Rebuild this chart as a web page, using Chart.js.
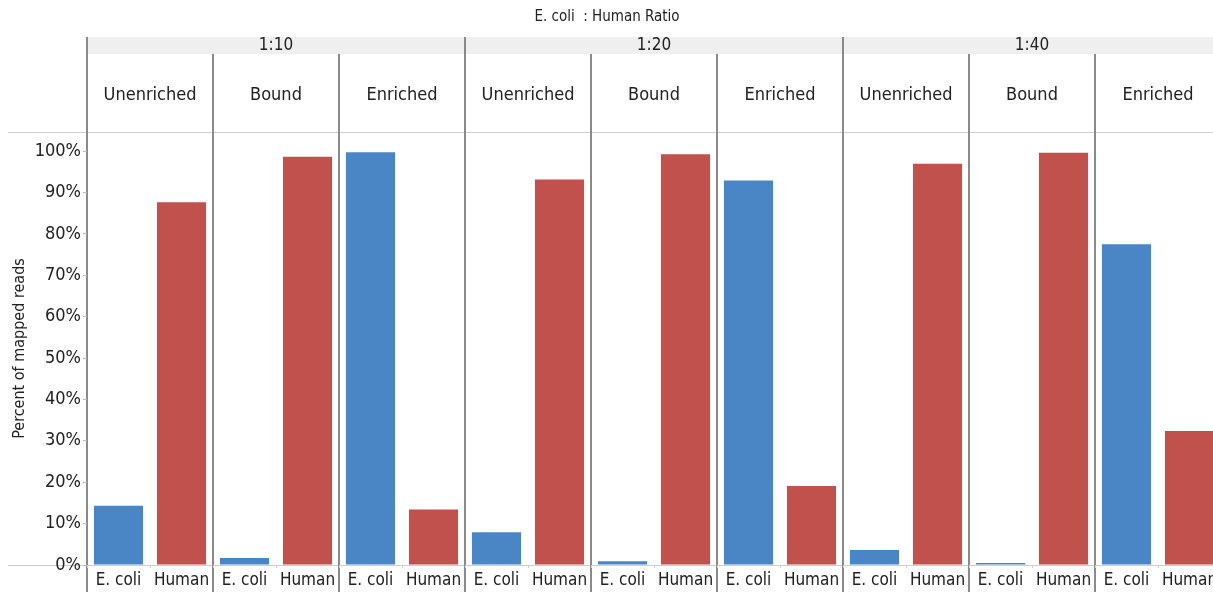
<!DOCTYPE html>
<html>
<head>
    <title>E. coli : Human Ratio</title>
    <script src="https://cdn.jsdelivr.net/npm/chart.js"></script>
    <style>
        body { margin: 0; overflow: hidden; background: #fff; }
        #wrap { width: 1240px; height: 592px; }
    </style>
</head>
<body>
    <div id="wrap">
        <canvas id="ratioChart" width="1240" height="592"></canvas>
    </div>

    <script>
        // facets and categories
        const ratios = ['1:10', '1:20', '1:40'];
        const fractions = ['Unenriched', 'Bound', 'Enriched'];
        const species = ['E. coli', 'Human'];
        const yTicks = [0, 10, 20, 30, 40, 50, 60, 70, 80, 90, 100];

        // percent of mapped reads, one value per panel (ratio x fraction)
        const ecoliPct = [14.3, 1.7, 99.7, 7.9, 0.9, 92.9, 3.6, 0.5, 77.5];
        const humanPct = [87.6, 98.6, 13.4, 93.1, 99.2, 19.1, 96.9, 99.6, 32.4];

        const colors = { 'E. coli': '#4a86c6', 'Human': '#c0514d' };
        const FONT = '"Liberation Sans Narrow", "Arial Narrow", "DejaVu Sans Condensed", sans-serif';

        const labels = [];
        const values = [];
        const barColors = [];
        for (let p = 0; p < ecoliPct.length; p++) {
            species.forEach(s => {
                labels.push(s);
                values.push(s === 'E. coli' ? ecoliPct[p] : humanPct[p]);
                barColors.push(colors[s]);
            });
        }

        // header strips, panel dividers and title
        const facetPlugin = {
            id: 'facets',
            beforeDraw(chart) {
                const ctx = chart.ctx;
                const area = chart.chartArea;
                const xs = chart.scales.x;
                const W = chart.width;
                const H = chart.height;
                const step = xs.getPixelForValue(1) - xs.getPixelForValue(0);
                const panelW = step * species.length;
                const nPanels = ratios.length * fractions.length;

                ctx.save();
                // title
                ctx.fillStyle = '#222';
                ctx.font = '15px ' + FONT;
                ctx.textAlign = 'center';
                ctx.textBaseline = 'middle';
                ctx.fillText('E. coli  : Human Ratio', 607, 17);

                // ratio band
                ctx.fillStyle = '#efefef';
                ctx.fillRect(area.left, 37, W - area.left, 17);

                // horizontal rules
                ctx.strokeStyle = '#cfcfcf';
                ctx.lineWidth = 1;
                ctx.beginPath();
                ctx.moveTo(8, area.top + 0.5);
                ctx.lineTo(W, area.top + 0.5);
                ctx.moveTo(8, area.bottom + 0.5);
                ctx.lineTo(W, area.bottom + 0.5);
                ctx.stroke();

                // ratio labels
                ctx.fillStyle = '#222';
                ctx.font = '17px ' + FONT;
                ratios.forEach((r, i) => {
                    const cx = area.left + panelW * fractions.length * (i + 0.5);
                    ctx.fillText(r, cx, 46);
                });

                // fraction labels
                ctx.font = '18px ' + FONT;
                for (let p = 0; p < nPanels; p++) {
                    const cx = area.left + panelW * (p + 0.5);
                    ctx.fillText(fractions[p % fractions.length], cx, 95);
                }

                // dividers
                ctx.strokeStyle = '#8a8a8a';
                ctx.lineWidth = 2;
                ctx.beginPath();
                for (let p = 0; p <= nPanels; p++) {
                    const x = Math.round(area.left + panelW * p);
                    const y0 = p % fractions.length === 0 ? 37 : 54;
                    ctx.moveTo(x, y0);
                    ctx.lineTo(x, H);
                }
                ctx.stroke();
                ctx.restore();
            }
        };

        new Chart(document.getElementById('ratioChart'), {
            type: 'bar',
            data: {
                labels: labels,
                datasets: [{
                    label: 'Percent of mapped reads',
                    data: values,
                    backgroundColor: barColors,
                    borderWidth: 0,
                    barPercentage: 0.78,
                    categoryPercentage: 1.0
                }]
            },
            options: {
                responsive: false,
                animation: false,
                devicePixelRatio: 1,
                layout: { padding: { top: 132, right: 19, left: 0, bottom: 0 } },
                plugins: {
                    legend: { display: false },
                    tooltip: { enabled: false }
                },
                scales: {
                    x: {
                        grid: { drawOnChartArea: false, color: '#d0d0d0', tickLength: 3 },
                        border: { display: false },
                        ticks: {
                            color: '#222',
                            font: { family: FONT, size: 17 },
                            padding: 2,
                            maxRotation: 0,
                            autoSkip: false
                        },
                        afterFit(scale) { scale.height = 27; }
                    },
                    y: {
                        min: 0,
                        max: 104.6,
                        grid: { drawOnChartArea: false, color: '#bbb', tickLength: 4 },
                        border: { display: false },
                        title: {
                            display: true,
                            text: 'Percent of mapped reads',
                            color: '#222',
                            font: { family: FONT, size: 16 },
                            padding: { top: 10, bottom: 0 }
                        },
                        ticks: {
                            color: '#222',
                            font: { family: FONT, size: 18 },
                            padding: 2,
                            callback: v => v + '%'
                        },
                        afterBuildTicks(scale) {
                            scale.ticks = yTicks.map(v => ({ value: v }));
                        },
                        afterFit(scale) { scale.width = 87; }
                    }
                }
            },
            plugins: [facetPlugin]
        });
    </script>
</body>
</html>
